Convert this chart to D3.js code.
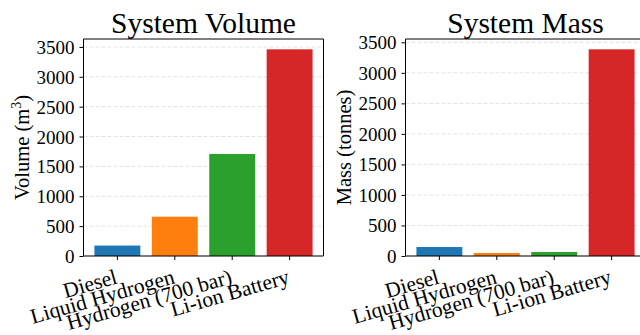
<!DOCTYPE html>
<html>
<head>
<meta charset="utf-8">
<script src="https://cdn.jsdelivr.net/npm/d3@7"></script>
<style>
  html, body { margin: 0; padding: 0; background: #fff; }
  svg { display: block; }
  text { font-family: "Liberation Serif", "Times New Roman", serif; fill: #000; }
</style>
</head>
<body>
<svg id="chart" width="640" height="335"></svg>
<script>
// Energy storage options compared by total system size
const categories = ["Diesel", "Liquid Hydrogen", "Hydrogen (700 bar)", "Li-ion Battery"];
const volumeValues = [175, 658, 1708, 3460];   // m³
const massValues = [147, 49, 65, 3385];        // tonnes
const yTickValues = [0, 500, 1000, 1500, 2000, 2500, 3000, 3500];
const barColors = ["#1f77b4", "#ff7f0e", "#2ca02c", "#d62728"];

const svg = d3.select("#chart");

const panels = [
  { title: "System Volume", label: ["Volume (m", "3", ")"], values: volumeValues, left: 83.5, right: 323.5 },
  { title: "System Mass", label: ["Mass (tonnes)"], values: massValues, left: 405.5, right: 645.5 }
];

const plotTop = 39, plotBottom = 256;

panels.forEach(p => {
  const g = svg.append("g");

  const x = d3.scaleBand()
    .domain(categories)
    .range([p.left, p.right])
    .paddingInner(0.2)
    .paddingOuter(0.19);

  const y = d3.scaleLinear()
    .domain([0, d3.max(p.values) * 1.05])
    .range([plotBottom, plotTop]);

  // dashed horizontal grid
  g.append("g").selectAll("line")
    .data(yTickValues)
    .join("line")
    .attr("x1", p.left).attr("x2", p.right)
    .attr("y1", d => y(d)).attr("y2", d => y(d))
    .attr("stroke", "#e0e0e0")
    .attr("stroke-width", 0.9)
    .attr("stroke-dasharray", "4,2");

  // bars
  g.append("g").selectAll("rect")
    .data(p.values)
    .join("rect")
    .attr("x", (d, i) => x(categories[i]))
    .attr("width", x.bandwidth())
    .attr("y", d => y(d))
    .attr("height", d => plotBottom - y(d))
    .attr("fill", (d, i) => barColors[i]);

  // spines
  const spine = g.append("g").attr("stroke", "#000").attr("stroke-width", 1);
  spine.append("line").attr("x1", p.left).attr("x2", p.right).attr("y1", plotTop).attr("y2", plotTop);
  spine.append("line").attr("x1", p.left).attr("x2", p.right).attr("y1", plotBottom).attr("y2", plotBottom);
  spine.append("line").attr("x1", p.left).attr("x2", p.left).attr("y1", plotTop).attr("y2", plotBottom);
  spine.append("line").attr("x1", p.right).attr("x2", p.right).attr("y1", plotTop).attr("y2", plotBottom);

  // y axis
  const yAxis = d3.axisLeft(y)
    .tickValues(yTickValues)
    .tickSize(4)
    .tickPadding(5)
    .tickFormat(d3.format("d"));
  const ya = g.append("g")
    .attr("transform", `translate(${p.left},0)`)
    .call(yAxis);
  ya.select(".domain").remove();
  ya.selectAll(".tick line").attr("stroke", "#000");
  ya.selectAll(".tick text")
    .attr("font-size", 19)
    .attr("font-family", "Liberation Serif")
    .attr("dy", "0.34em");

  // x axis
  const xAxis = d3.axisBottom(x).tickSize(4).tickFormat("");
  const xa = g.append("g")
    .attr("transform", `translate(0,${plotBottom})`)
    .call(xAxis);
  xa.select(".domain").remove();
  xa.selectAll(".tick line").attr("stroke", "#000");
  xa.selectAll(".tick text").remove();

  // rotated category labels
  g.append("g").selectAll("text")
    .data(categories)
    .join("text")
    .attr("transform", d => `translate(${x(d) + x.bandwidth() / 2 + 1},${plotBottom + 27}) rotate(-16)`)
    .attr("text-anchor", "end")
    .attr("font-size", 21.5)
    .text(d => d);

  // title
  g.append("text")
    .attr("x", (p.left + p.right) / 2)
    .attr("y", 33)
    .attr("text-anchor", "middle")
    .attr("font-size", 29.5)
    .text(p.title);

  // y label
  const yl = g.append("text")
    .attr("transform", `translate(${p.left - 55},${(plotTop + plotBottom) / 2}) rotate(-90)`)
    .attr("text-anchor", "middle")
    .attr("font-size", 20.5);
  yl.append("tspan").text(p.label[0]);
  if (p.label.length > 1) {
    yl.append("tspan").attr("dy", -8).attr("font-size", 14).text(p.label[1]);
    yl.append("tspan").attr("dy", 8).text(p.label[2]);
  }
});
</script>
</body>
</html>
